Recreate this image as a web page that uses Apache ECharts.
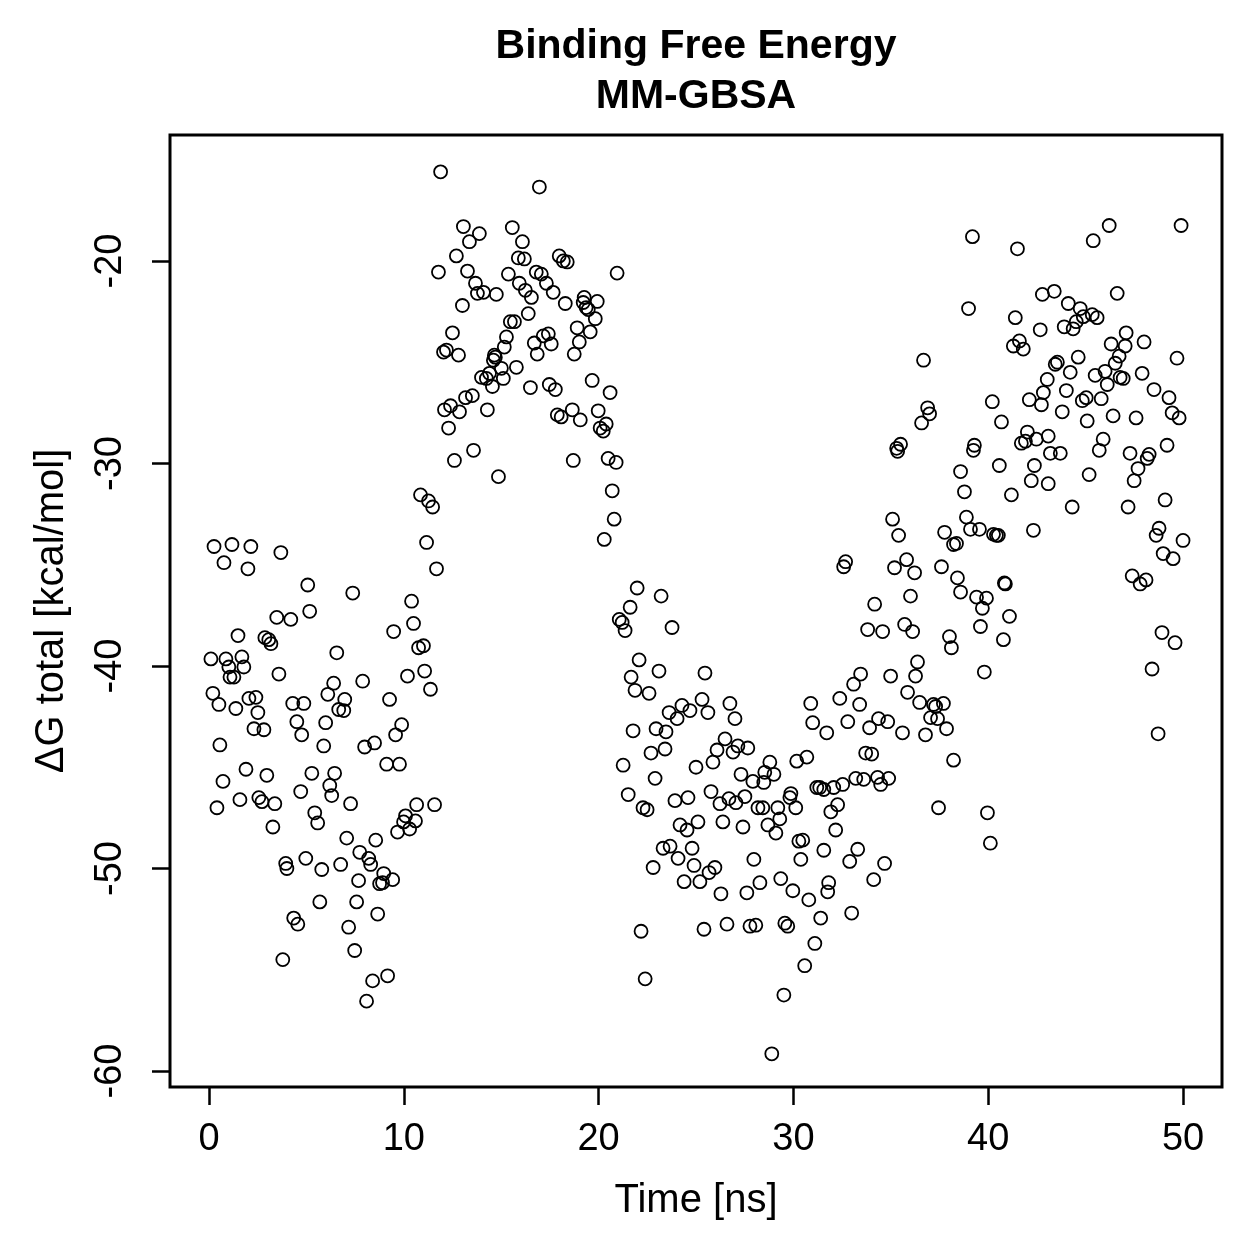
<!DOCTYPE html>
<html>
<head>
<meta charset="utf-8">
<script src="https://cdn.jsdelivr.net/npm/echarts@6/dist/echarts.min.js"></script>
<style>
  html, body { margin: 0; padding: 0; background: #fff; }
  #chart { width: 1259px; height: 1259px; }
</style>
</head>
<body>
<div id="chart"></div>
<script>
// Time [ns], dG total [kcal/mol] pairs in four stretches
const phaseA = [
  [0.26,-34.1],[1.18,-34.0],[2.15,-34.1],[0.77,-34.9],[2.00,-35.2],[3.69,-34.4],[11.17,-33.9],[11.68,-35.2],
  [5.07,-36.0],[7.38,-36.4],[10.40,-36.8],[5.17,-37.3],[3.48,-37.6],[4.20,-37.7],[10.50,-37.9],[9.48,-38.3],
  [1.49,-38.5],[2.87,-38.6],[3.07,-38.7],[3.18,-38.9],[10.76,-39.1],[11.01,-39.0],[0.10,-39.65],[0.87,-39.65],
  [1.69,-39.55],[1.02,-40.05],[1.79,-40.05],[1.08,-40.55],[1.28,-40.55],[6.56,-39.35],[3.59,-40.4],[10.19,-40.5],
  [11.07,-40.25],[11.37,-41.15],[6.40,-40.85],[7.89,-40.75],[0.20,-41.35],[6.10,-41.4],[2.05,-41.6],[2.41,-41.55],
  [9.27,-41.65],[6.97,-41.65],[0.51,-41.9],[1.38,-42.1],[4.30,-41.85],[4.87,-41.85],[6.66,-42.15],[6.92,-42.2],
  [2.51,-42.3],[4.51,-42.75],[5.99,-42.8],[9.89,-42.9],[9.58,-43.4],[2.31,-43.1],[2.82,-43.15],[4.76,-43.4],
  [0.56,-43.9],[5.89,-43.95],[7.99,-44.0],[8.50,-43.8],[9.12,-44.85],[9.78,-44.85],[1.90,-45.1],[5.28,-45.3],
  [6.45,-45.3],[2.97,-45.4],[0.72,-45.7],[6.20,-45.9],[6.30,-46.4],[4.71,-46.2],[1.59,-46.6],[2.56,-46.5],
  [2.72,-46.7],[3.38,-46.8],[0.41,-47.0],[7.27,-46.8],[5.43,-47.25],[5.58,-47.75],[3.28,-47.95],[10.66,-46.85],
  [11.58,-46.85],[10.09,-47.4],[9.99,-47.7],[10.60,-47.65],[10.30,-48.05],[9.68,-48.2],[7.07,-48.5],[8.56,-48.6],
  [7.74,-49.2],[8.20,-49.5],[8.30,-49.8],[4.97,-49.5],[3.94,-49.75],[4.00,-50.0],[5.79,-50.05],[6.76,-49.8],
  [8.97,-50.25],[9.43,-50.55],[8.76,-50.75],[8.91,-50.7],[7.68,-50.6],[5.69,-51.65],[7.58,-51.65],[8.66,-52.25],
  [4.35,-52.45],[4.56,-52.75],[7.17,-52.9],[7.48,-54.05],[3.79,-54.5],[8.40,-55.55],[9.17,-55.3],[8.09,-56.55],
  [10.86,-31.55],[11.27,-31.85],[11.48,-32.15]
];
const phaseB = [
  [11.89,-15.6],[16.96,-16.35],[13.06,-18.3],[13.88,-18.65],[13.37,-19.05],[15.57,-18.35],[16.09,-19.05],[12.70,-19.75],
  [15.88,-19.85],[16.19,-19.9],[17.98,-19.75],[18.19,-20.0],[18.39,-20.05],[11.78,-20.55],[13.27,-20.5],[15.37,-20.65],
  [20.95,-20.6],[16.80,-20.55],[17.06,-20.65],[17.32,-21.1],[13.68,-21.1],[13.78,-21.6],[14.09,-21.55],[14.75,-21.65],
  [15.93,-21.1],[16.24,-21.45],[16.55,-21.8],[17.67,-21.55],[18.29,-22.1],[19.26,-21.8],[19.21,-22.05],[19.36,-22.3],
  [19.47,-22.4],[19.93,-22.0],[19.83,-22.85],[13.01,-22.2],[16.39,-22.6],[15.47,-23.0],[15.68,-23.0],[18.90,-23.3],
  [19.57,-23.5],[12.50,-23.55],[15.27,-23.75],[15.16,-24.25],[17.16,-23.7],[17.42,-23.6],[16.70,-24.05],[17.57,-24.1],
  [19.01,-24.0],[12.04,-24.5],[12.19,-24.4],[12.81,-24.65],[14.65,-24.65],[16.85,-24.6],[18.75,-24.6],[14.60,-24.9],
  [14.70,-24.75],[15.01,-25.3],[15.78,-25.25],[13.99,-25.75],[14.24,-25.8],[14.40,-25.55],[14.55,-26.2],[15.11,-25.8],
  [16.50,-26.25],[17.47,-26.1],[17.78,-26.35],[19.67,-25.9],[20.59,-26.5],[13.17,-26.75],[13.52,-26.65],[12.09,-27.35],
  [12.40,-27.15],[12.86,-27.45],[14.29,-27.35],[17.88,-27.6],[18.08,-27.7],[18.65,-27.35],[19.06,-27.85],[19.98,-27.4],
  [20.08,-28.25],[20.39,-28.05],[20.24,-28.4],[12.30,-28.25],[13.58,-29.35],[12.60,-29.85],[18.70,-29.85],[20.49,-29.75],
  [20.90,-29.95],[14.86,-30.65],[20.70,-31.35],[20.80,-32.75],[20.29,-33.75]
];
const phaseC = [
  [21.98,-36.15],[23.21,-36.55],[21.62,-37.1],[21.06,-37.7],[21.21,-37.85],[21.36,-38.25],[23.77,-38.1],[22.08,-39.7],
  [21.67,-40.55],[23.10,-40.25],[25.46,-40.35],[21.87,-41.2],[22.59,-41.35],[24.28,-41.95],[25.31,-41.65],[26.74,-41.85],
  [30.89,-41.85],[23.62,-42.3],[24.69,-42.2],[25.61,-42.3],[27.00,-42.6],[22.95,-43.1],[24.03,-42.6],[30.99,-42.8],
  [21.77,-43.2],[23.46,-43.25],[31.71,-43.3],[26.49,-43.6],[27.15,-43.95],[27.66,-44.05],[26.08,-44.15],[26.90,-44.25],
  [23.41,-44.1],[22.69,-44.3],[30.17,-44.7],[30.69,-44.5],[28.79,-44.75],[25.87,-44.75],[21.26,-44.9],[25.00,-45.0],
  [27.31,-45.35],[28.53,-45.25],[29.00,-45.35],[27.92,-45.7],[28.48,-45.75],[22.90,-45.55],[31.20,-46.0],[31.35,-46.0],
  [31.56,-46.1],[21.52,-46.35],[23.92,-46.65],[24.59,-46.5],[25.77,-46.2],[26.69,-46.55],[27.05,-46.75],[26.23,-46.8],
  [27.51,-46.45],[29.87,-46.3],[29.82,-46.5],[30.12,-47.0],[22.28,-47.0],[22.49,-47.1],[28.18,-47.0],[28.43,-47.0],
  [29.20,-47.0],[31.92,-47.2],[24.18,-47.85],[24.54,-48.1],[25.10,-47.7],[26.38,-47.7],[27.41,-47.95],[28.69,-47.85],
  [29.30,-47.55],[29.10,-48.25],[30.28,-48.65],[30.48,-48.6],[23.31,-49.0],[23.67,-48.9],[24.80,-49.0],[24.08,-49.5],
  [24.90,-49.85],[22.80,-49.95],[25.97,-49.95],[25.67,-50.2],[27.97,-49.55],[30.38,-49.55],[31.56,-49.1],[24.39,-50.65],
  [25.20,-50.65],[28.28,-50.7],[29.35,-50.5],[29.97,-51.1],[26.28,-51.25],[27.61,-51.2],[30.79,-51.55],[31.76,-51.15],
  [31.81,-50.7],[22.18,-53.1],[25.41,-53.0],[26.59,-52.75],[27.77,-52.85],[28.07,-52.8],[29.56,-52.7],[29.71,-52.85],
  [31.40,-52.45],[31.10,-53.7],[30.58,-54.8],[22.39,-55.45],[29.51,-56.25],[28.89,-59.15],
  [32.38,-41.6],[33.40,-41.9],[32.79,-42.75],[33.91,-43.05],[34.37,-42.6],[34.84,-42.75],[35.60,-43.3],[36.78,-43.4],
  [38.22,-44.65],[33.71,-44.3],[34.02,-44.35],[33.20,-45.55],[33.61,-45.6],[34.32,-45.5],[34.89,-45.55],[34.48,-45.85],
  [32.07,-46.0],[32.53,-45.85],[32.27,-46.85],[37.45,-47.0],[32.17,-48.1],[33.30,-49.05],[32.89,-49.65],[34.68,-49.75],
  [34.12,-50.55],[32.99,-52.2],[33.45,-40.4],[33.09,-40.9],[34.99,-40.5],[36.27,-40.5],[35.86,-41.3],[36.48,-41.8],
  [37.19,-41.9],[37.30,-42.0],[37.70,-41.85],[37.04,-42.55],[37.40,-42.6],[37.86,-43.1],[36.37,-39.8],[33.81,-38.2],
  [34.58,-38.3],[35.71,-37.95],[36.12,-38.3],[38.01,-38.55],[38.11,-39.1],[34.17,-36.95],[36.01,-36.55],[38.58,-36.35],
  [38.42,-35.65],[37.60,-35.1],[36.22,-35.4],[35.81,-34.75],[35.19,-35.15],[32.68,-34.85],[32.58,-35.1],[38.22,-34.0],
  [38.37,-33.95],[37.76,-33.4],[35.40,-33.55]
];
const phaseD = [
  [39.19,-18.8],[41.50,-19.4],[42.78,-21.65],[38.99,-22.35],[41.39,-22.8],[42.67,-23.4],[41.60,-23.95],[41.29,-24.2],
  [41.80,-24.35],[36.68,-24.9],[43.03,-25.85],[42.83,-26.5],[42.11,-26.85],[42.73,-27.1],[40.21,-26.95],[36.89,-27.25],
  [36.99,-27.55],[36.58,-28.0],[40.68,-27.95],[42.01,-28.45],[42.47,-28.8],[41.70,-29.0],[41.91,-28.9],[39.29,-29.1],
  [35.50,-29.05],[35.30,-29.25],[43.08,-28.65],[43.19,-29.5],
  [46.21,-18.25],[49.90,-18.25],[45.39,-19.0],[46.62,-21.6],[43.39,-21.5],[44.11,-22.1],[44.72,-22.35],[44.88,-22.75],
  [45.34,-22.65],[45.59,-22.8],[44.52,-23.0],[44.36,-23.35],[43.90,-23.25],[47.08,-23.55],[46.31,-24.1],[47.03,-24.2],
  [48.00,-24.0],[46.72,-24.7],[46.52,-25.05],[49.69,-24.8],[44.62,-24.75],[43.55,-25.0],[43.44,-25.1],[44.21,-25.5],
  [46.00,-25.45],[45.49,-25.65],[46.77,-25.75],[46.93,-25.8],[46.11,-26.1],[47.90,-25.55],[44.01,-26.4],[48.51,-26.35],
  [49.28,-26.75],[45.80,-26.8],[44.83,-26.9],[45.03,-26.75],[43.80,-27.45],[49.44,-27.5],[49.80,-27.75],[45.08,-27.9],
  [46.41,-27.65],[47.59,-27.75],[45.90,-28.8],[45.70,-29.35],[49.18,-29.1],[43.70,-29.5],[47.28,-29.5],[48.26,-29.55],
  [48.16,-29.75],
  [35.35,-29.4],[39.24,-29.35],[38.58,-30.4],[40.57,-30.1],[42.37,-30.1],[42.21,-30.85],[43.08,-31.0],[38.78,-31.4],
  [41.19,-31.55],[35.09,-32.75],[38.88,-32.65],[39.09,-33.25],[39.55,-33.25],[40.27,-33.5],[40.42,-33.55],[40.52,-33.55],
  [42.32,-33.3],[39.40,-36.6],[39.91,-36.65],[39.70,-37.15],[40.83,-35.9],[40.88,-35.95],[41.09,-37.55],[39.60,-38.05],
  [40.78,-38.7],[39.80,-40.3],[39.96,-47.25],[40.11,-48.75],
  [47.69,-30.25],[47.49,-30.85],[45.18,-30.55],[44.31,-32.15],[47.18,-32.15],[49.08,-31.8],[48.77,-33.2],[48.62,-33.55],
  [50.00,-33.8],[48.98,-34.45],[49.49,-34.7],[47.39,-35.55],[48.10,-35.75],[47.80,-35.95],[48.92,-38.35],[49.59,-38.85],
  [48.41,-40.15],[48.72,-43.35]
];

const xTicks = [0, 10, 20, 30, 40, 50];
const yTicks = [-60, -50, -40, -30, -20];

const font = '"Liberation Sans", Arial, sans-serif';
const chart = echarts.init(document.getElementById('chart'), null, { renderer: 'canvas' });

chart.setOption({
  animation: false,
  backgroundColor: '#fff',
  grid: {
    left: 170, right: 37, top: 135, bottom: 172,
    show: true, borderColor: '#000', borderWidth: 3,
    containLabel: false, outerBoundsMode: 'none'
  },
  graphic: [
    { type: 'text', x: 696, y: 47, style: { text: 'Binding Free Energy', font: 'bold 41px ' + font, fill: '#000', textAlign: 'center', textVerticalAlign: 'middle' } },
    { type: 'text', x: 696, y: 97, style: { text: 'MM-GBSA', font: 'bold 41px ' + font, fill: '#000', textAlign: 'center', textVerticalAlign: 'middle' } }
  ],
  xAxis: {
    type: 'value', min: -2, max: 52,
    name: 'Time [ns]', nameLocation: 'middle', nameGap: 94,
    nameTextStyle: { fontFamily: font, fontSize: 40, color: '#000' },
    axisLine: { show: false, onZero: false },
    splitLine: { show: false },
    axisTick: { show: true, customValues: xTicks, length: 18, lineStyle: { color: '#000', width: 2.5 } },
    axisLabel: { customValues: xTicks, fontFamily: font, fontSize: 38, color: '#000', margin: 34 }
  },
  yAxis: {
    type: 'value', min: -60.79, max: -13.78,
    name: 'ΔG total [kcal/mol]', nameLocation: 'middle', nameGap: 98, nameRotate: 90,
    nameTextStyle: { fontFamily: font, fontSize: 40, color: '#000' },
    axisLine: { show: false, onZero: false },
    splitLine: { show: false },
    axisTick: { show: true, customValues: yTicks, length: 18, lineStyle: { color: '#000', width: 2.5 } },
    axisLabel: { customValues: yTicks, rotate: 90, fontFamily: font, fontSize: 38, color: '#000', margin: 40 }
  },
  series: [{
    type: 'scatter',
    data: phaseA.concat(phaseB, phaseC, phaseD),
    symbol: 'circle',
    symbolSize: 13,
    silent: true,
    itemStyle: { color: 'rgba(0,0,0,0)', borderColor: '#000', borderWidth: 1.8, opacity: 1 },
    emphasis: { disabled: true }
  }]
});
</script>
</body>
</html>
